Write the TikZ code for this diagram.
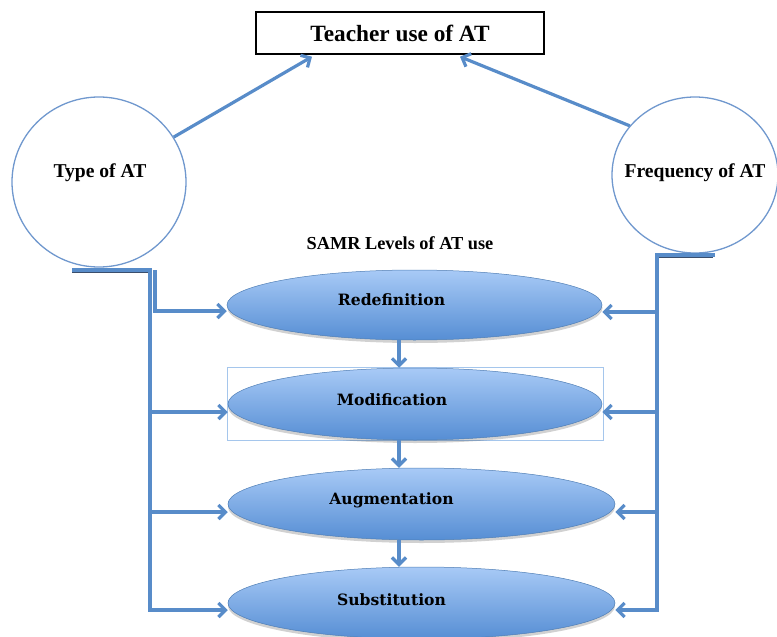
\documentclass[tikz,border=0pt]{standalone}
\usepackage{fontspec}
\setmainfont{Liberation Serif}
\newfontfamily\slabfont{DejaVu Serif}
\usetikzlibrary{arrows.meta,shapes.geometric,calc}

\definecolor{linkblue}{RGB}{88,140,201}
\definecolor{rimblue}{RGB}{112,152,206}
\definecolor{lighttop}{RGB}{168,202,246}
\definecolor{deepbottom}{RGB}{86,142,212}
\definecolor{framblue}{RGB}{165,198,236}
\definecolor{barshade}{RGB}{58,78,108}

\begin{document}
\begin{tikzpicture}[x=1pt,y=-1pt,
  conn/.style={draw=linkblue,line width=3.2pt,-{Straight Barb[length=7pt,width=14pt]}},
  barline/.style={draw=barshade,line width=2.4pt},
  bubble/.style={shape=ellipse,draw=rimblue,line width=1.3pt,fill=white,inner sep=0pt},
  level/.style={shape=ellipse,draw=linkblue!90!black,line width=0.5pt,
                top color=lighttop,bottom color=deepbottom,inner sep=0pt},
  levelshade/.style={shape=ellipse,fill=black,opacity=0.18,inner sep=0pt},
  heading/.style={font=\bfseries\fontsize{23.3}{27}\selectfont},
  sidetext/.style={font=\bfseries\fontsize{19.6}{23}\selectfont},
  leveltext/.style={font=\slabfont\bfseries\fontsize{15.6}{19}\selectfont}
]
\useasboundingbox (0,0) rectangle (777,637);

% top outcome box
\node[draw=black,line width=1.4pt,minimum width=288pt,minimum height=42pt,
      inner sep=0pt,heading] (teach) at (400,33) {Teacher use of AT};

% the two factor bubbles
\node[bubble,minimum width=174pt,minimum height=170pt] (type) at (99,182) {};
\node[sidetext] (typetxt) at (100,173) {Type of AT};
\node[bubble,minimum width=166pt,minimum height=156pt] (freq) at (695,175) {};
\node[sidetext] (freqtxt) at (695,173) {Frequency of AT};

% heading of the SAMR stack
\node[font=\bfseries\fontsize{18.3}{22}\selectfont] (samr) at (400,243) {SAMR Levels of AT use};

% highlight frame around Modification
\node[draw=framblue,line width=0.8pt,minimum width=376pt,minimum height=73pt,inner sep=0pt]
  (modframe) at (415,403.5) {};

% soft shadows beneath the level ellipses
\node[levelshade,minimum width=375pt,minimum height=70pt] (redsh) at (415,308) {};
\node[levelshade,minimum width=374pt,minimum height=72pt] (modsh) at (415,407) {};
\node[levelshade,minimum width=387pt,minimum height=72pt] (augsh) at (421.5,507) {};
\node[levelshade,minimum width=387pt,minimum height=72pt] (subsh) at (421.5,606) {};

% SAMR level ellipses
\node[level,minimum width=375pt,minimum height=70pt] (red) at (414.5,305) {};
\node[level,minimum width=374pt,minimum height=72pt] (mod) at (415,404) {};
\node[level,minimum width=387pt,minimum height=72pt] (aug) at (421.5,504) {};
\node[level,minimum width=387pt,minimum height=72pt] (sub) at (421.5,603) {};

\node[leveltext] (redtxt) at (391.5,300) {Redefinition};
\node[leveltext] (modtxt) at (392,400) {Modification};
\node[leveltext] (augtxt) at (391.5,500) {Augmentation};
\node[leveltext] (subtxt) at (391.5,600) {Substitution};

% bubbles feed the outcome box
\draw[conn] (type.31) -- ([xshift=-88pt,yshift=-2pt]teach.south);
\draw[conn] (freq.143) -- ([xshift=60pt,yshift=-2pt]teach.south);

% descending links between levels
\coordinate (dx) at (399,0);
\draw[conn] (red.south -| dx) -- (mod.north -| dx);
\draw[conn] (mod.south -| dx) -- (aug.north -| dx);
\draw[conn] (aug.south -| dx) -- (sub.north -| dx);

% left elbow bracket from Type of AT
\coordinate (lA) at (72,270);
\coordinate (lB) at (150,270);
\coordinate (lC) at (150,610);
\coordinate (l2) at (150,412);
\coordinate (l3) at (150,512);
\coordinate (lb1) at (155,270);
\coordinate (lb2) at (155,311);
\draw[barline] ($(lA)+(0,2.2)$) -- ($(lB)+(2,2.2)$);
\draw[conn] (lA) -- (lB) -- (lC) -- (lC -| sub.west);
\draw[conn] (l2) -- (l2 -| mod.west);
\draw[conn] (l3) -- (l3 -| aug.west);
\draw[conn] (lb1) -- (lb2) -- (lb2 -| red.west);

% right elbow bracket from Frequency of AT
\coordinate (rA) at (715,255);
\coordinate (rB) at (657,255);
\coordinate (rC) at (657,610);
\coordinate (r1) at (657,312);
\coordinate (r2) at (657,412);
\coordinate (r3) at (657,512);
\draw[barline] ($(rB)+(0,2.2)$) -- ($(rA)+(-2,2.2)$);
\draw[conn] (rA) -- (rB) -- (rC) -- (rC -| sub.east);
\draw[conn] (r1) -- (r1 -| red.east);
\draw[conn] (r2) -- (r2 -| mod.east);
\draw[conn] (r3) -- (r3 -| aug.east);
\end{tikzpicture}
\end{document}
